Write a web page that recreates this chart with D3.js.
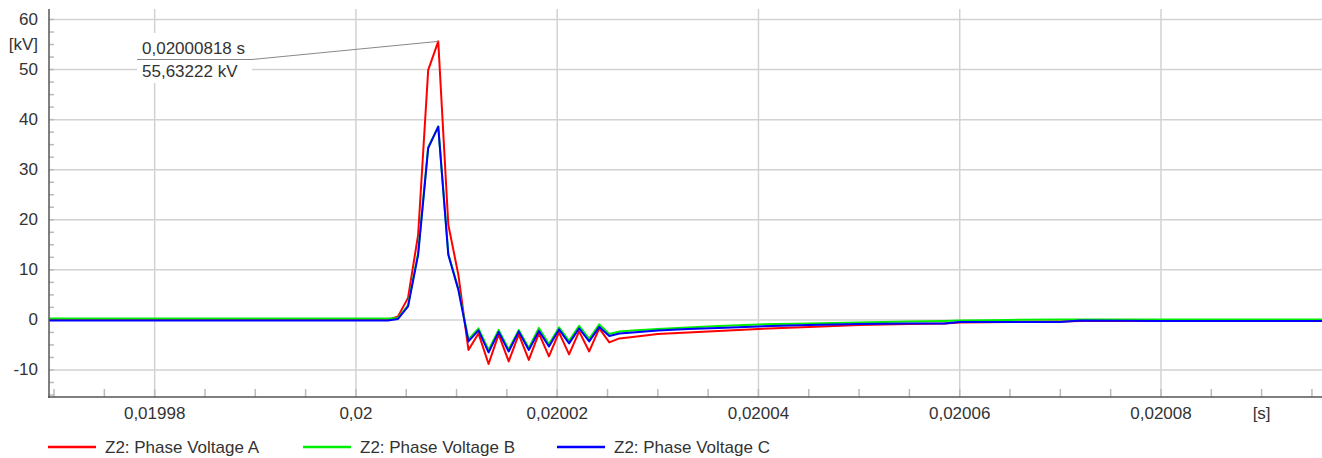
<!DOCTYPE html>
<html>
<head>
<meta charset="utf-8">
<title>Phase Voltage</title>
<style>
  body { margin: 0; background: #fff; font-family: Arial, "Liberation Sans", sans-serif; }
  .grid line { stroke: #d2d2d2; stroke-width: 1.5px; }
  .lbl { font-size: 17px; fill: #333; }
</style>
<script src="https://d3js.org/d3.v7.min.js"></script>
</head>
<body>
<svg id="chart" width="1322" height="458"></svg>
<script>
// sample times [s], shared by the three phases
const times = [
  0.0199695, 0.02000318, 0.02000418, 0.02000518, 0.02000618, 0.02000718,
  0.02000818, 0.02000918, 0.02001018, 0.02001118, 0.02001218, 0.02001318,
  0.02001418, 0.02001518, 0.02001618, 0.02001718, 0.02001818, 0.02001918,
  0.02002018, 0.02002118, 0.02002218, 0.02002318, 0.02002418, 0.02002518,
  0.02002618, 0.0200275, 0.02003, 0.020033, 0.020036, 0.02004, 0.020045,
  0.02005, 0.020055, 0.0200585, 0.02006, 0.020065, 0.02007, 0.020072,
  0.02008, 0.02009, 0.020096
];
// phase voltages [kV]
const phaseA = [
  0, 0, 0.7, 4.4, 17, 49.9,
  55.63222, 19, 9, -6, -2.7, -8.8,
  -2.9, -8.3, -2.9, -8, -2.7, -7.3,
  -2.5, -6.9, -2.3, -6.3, -1.7, -4.5,
  -3.7, -3.4, -2.8, -2.5, -2.2, -1.8, -1.4,
  -1.0, -0.8, -0.7, -0.5, -0.4, -0.3, -0.2,
  -0.2, -0.2, -0.2
];
const phaseB = [
  0.3, 0.3, 0.4, 2.9, 13.4, 34.5,
  38.6, 13.2, 6.2, -3.9, -1.7, -6,
  -2, -5.9, -2, -5.6, -1.6, -4.8,
  -1.5, -4.2, -1.2, -3.8, -0.9, -2.8,
  -2.3, -2.1, -1.8, -1.5, -1.2, -0.9, -0.7,
  -0.5, -0.3, -0.2, -0.1, 0, 0.1, 0.1,
  0.1, 0.1, 0.1
];
const phaseC = [
  -0.1, -0.1, 0.2, 2.7, 13, 34.3,
  38.6, 13, 6, -4.3, -2.1, -6.5,
  -2.4, -6.3, -2.3, -6, -2.2, -5.3,
  -1.9, -4.7, -1.7, -4.3, -1.4, -3.2,
  -2.7, -2.5, -2.1, -1.8, -1.6, -1.3, -1.0,
  -0.8, -0.7, -0.7, -0.4, -0.4, -0.4, -0.1,
  -0.2, -0.2, -0.2
];
const seriesNames = ["Z2: Phase Voltage A", "Z2: Phase Voltage B", "Z2: Phase Voltage C"];
const seriesColors = ["#ff0000", "#00ee00", "#0000ff"];
const xTicks = [0.01998, 0.02, 0.02002, 0.02004, 0.02006, 0.02008];
const yTicks = [-10, 0, 10, 20, 30, 40, 50, 60];

const svg = d3.select("#chart");
const m = { left: 49, right: 1322, top: 9, bottom: 397 };

const x = d3.scaleLinear().domain([0.0199695, 0.020096]).range([m.left, m.right]);
const y = d3.scaleLinear().domain([-15.4, 62.1]).range([m.bottom, m.top]);

const loc = d3.formatLocale({ decimal: ",", thousands: ".", grouping: [3], currency: ["", ""], minus: "-" });
const fmtX = loc.format(".6~g");
const fmtY = loc.format("d");

// grid
const grid = svg.append("g").attr("class", "grid");
grid.selectAll(".gy").data(yTicks).join("line")
  .attr("x1", m.left).attr("x2", m.right)
  .attr("y1", d => y(d)).attr("y2", d => y(d));
grid.selectAll(".gx").data(xTicks).join("line")
  .attr("x1", d => x(d)).attr("x2", d => x(d))
  .attr("y1", m.top).attr("y2", m.bottom);

// minor ticks
const xMinor = d3.range(0.01997, 0.020096, 0.000005).filter(t => x(t) > m.left + 2);
svg.append("g").selectAll("line").data(xMinor).join("line")
  .attr("x1", d => x(d)).attr("x2", d => x(d))
  .attr("y1", m.bottom).attr("y2", m.bottom - 8)
  .attr("stroke", "#bbb").attr("stroke-width", 1.5);
const yMinor = d3.range(-15, 62, 2.5);
svg.append("g").selectAll("line").data(yMinor).join("line")
  .attr("x1", m.left).attr("x2", m.left + 5)
  .attr("y1", d => y(d)).attr("y2", d => y(d))
  .attr("stroke", "#bbb").attr("stroke-width", 1.5);

// series
const line = d3.line().x(d => x(d[0])).y(d => y(d[1]));
[phaseA, phaseB, phaseC].forEach((vals, i) => {
  svg.append("path")
    .datum(times.map((t, j) => [t, vals[j]]))
    .attr("fill", "none")
    .attr("stroke", seriesColors[i])
    .attr("stroke-width", 2)
    .attr("stroke-linejoin", "round")
    .attr("d", line);
});

// axes lines
svg.append("line").attr("x1", m.left).attr("x2", m.left).attr("y1", m.top).attr("y2", m.bottom + 1)
  .attr("stroke", "#555").attr("stroke-width", 1.5);
svg.append("line").attr("x1", m.left - 1).attr("x2", m.right).attr("y1", m.bottom).attr("y2", m.bottom)
  .attr("stroke", "#555").attr("stroke-width", 1.5);

// tick labels
svg.append("g").selectAll("text").data(yTicks).join("text")
  .attr("class", "lbl").attr("x", 38).attr("y", d => y(d))
  .attr("text-anchor", "end").attr("dominant-baseline", "central")
  .text(d => fmtY(d));
svg.append("text").attr("class", "lbl").attr("x", 38).attr("y", y(55))
  .attr("text-anchor", "end").attr("dominant-baseline", "central").text("[kV]");
svg.append("g").selectAll("text").data(xTicks).join("text")
  .attr("class", "lbl").attr("x", d => x(d)).attr("y", 419)
  .attr("text-anchor", "middle").text(d => fmtX(d));
svg.append("text").attr("class", "lbl").attr("x", x(0.02009)).attr("y", 419)
  .attr("text-anchor", "middle").text("[s]");

// peak annotation
const iPeak = d3.maxIndex(phaseA);
const px = x(times[iPeak]), py = y(phaseA[iPeak]);
svg.append("rect").attr("x", 137).attr("y", 33).attr("width", 115).attr("height", 50).attr("fill", "#fff");
svg.append("polyline")
  .attr("points", `137,59.5 252,59.5 ${px},${py}`)
  .attr("fill", "none").attr("stroke", "#888").attr("stroke-width", 1);
svg.append("text").attr("class", "lbl").attr("x", 142).attr("y", 54)
  .text(loc.format(".8f")(times[iPeak]) + " s");
svg.append("text").attr("class", "lbl").attr("x", 142).attr("y", 77)
  .text(loc.format(".5f")(phaseA[iPeak]) + " kV");

// legend
const legX = [48, 303, 557];
const leg = svg.append("g").selectAll("g").data(seriesNames).join("g")
  .attr("transform", (d, i) => `translate(${legX[i]},447)`);
leg.append("line").attr("x1", 0).attr("x2", 48).attr("y1", 0).attr("y2", 0)
  .attr("stroke", (d, i) => seriesColors[i]).attr("stroke-width", 2.5);
leg.append("text").attr("class", "lbl").attr("x", 57).attr("y", 0)
  .attr("dominant-baseline", "central").text(d => d);
</script>
</body>
</html>
